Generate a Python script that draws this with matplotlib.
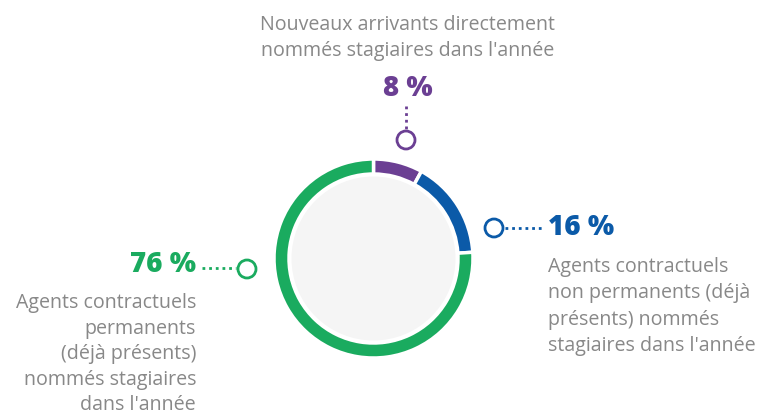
import matplotlib
matplotlib.use("Agg")
import matplotlib.pyplot as plt
from matplotlib.patches import Circle

categories = [
    "Nouveaux arrivants directement\nnommés stagiaires dans l'année",
    "Agents contractuels\nnon permanents (déjà\nprésents) nommés\nstagiaires dans l'année",
    "Agents contractuels\npermanents\n(déjà présents)\nnommés stagiaires\ndans l'année",
]
values = [8, 16, 76]
pct_labels = ["8 %", "16 %", "76 %"]
colors = ["#6b3f93", "#0b5aa8", "#1aab5f"]

W, H = 758, 414
fig = plt.figure(figsize=(W / 100, H / 100), dpi=100)
ax = fig.add_axes([0, 0, 1, 1])

def Y(y):
    return H - y

cx, cy, R = 373.5, Y(259.5), 99.5
ax.pie(values, colors=colors, startangle=90, counterclock=False,
       radius=R, center=(cx, cy), frame=True,
       wedgeprops=dict(width=15, edgecolor="white", linewidth=2.5))
ax.set_xlim(0, W)
ax.set_ylim(0, H)
ax.set_aspect("equal")
ax.axis("off")
ax.add_patch(Circle((cx, cy), 82, facecolor="#f5f5f5", edgecolor="none", zorder=1))

font = "Open Sans"
gray = "#888888"
txt_size = 14.1
pct_size = 20
pct_weight = "heavy"

# purple (top)
ax.add_patch(Circle((406, Y(141)), 9, facecolor="white", edgecolor=colors[0], lw=2, zorder=5))
ax.plot([406, 406], [Y(107), Y(131)], color=colors[0], lw=2, ls=(0, (1, 1.4)), zorder=4)
ax.text(408, Y(88), pct_labels[0], color=colors[0], fontsize=pct_size, fontweight=pct_weight,
        family=font, ha="center", va="center")
ax.text(408, Y(15), categories[0], color=gray, fontsize=txt_size, family=font,
        ha="center", va="top", linespacing=1.42)

# blue (right)
ax.add_patch(Circle((494, Y(229)), 9, facecolor="white", edgecolor=colors[1], lw=2, zorder=5))
ax.plot([505, 543], [Y(229), Y(229)], color=colors[1], lw=2, ls=(0, (1, 1.4)), zorder=4)
ax.text(548, Y(228), pct_labels[1], color=colors[1], fontsize=pct_size, fontweight=pct_weight,
        family=font, ha="left", va="center")
ax.text(548, Y(257), categories[1], color=gray, fontsize=txt_size, family=font,
        ha="left", va="top", linespacing=1.42)

# green (left)
ax.add_patch(Circle((247, Y(270)), 9, facecolor="white", edgecolor=colors[2], lw=2, zorder=5))
ax.plot([202, 236], [Y(269), Y(269)], color=colors[2], lw=2, ls=(0, (1, 1.4)), zorder=4)
ax.text(196, Y(265), pct_labels[2], color=colors[2], fontsize=pct_size, fontweight=pct_weight,
        family=font, ha="right", va="center")
ax.text(196, Y(293), categories[2], color=gray, fontsize=txt_size, family=font,
        ha="right", va="top", linespacing=1.37)

fig.savefig("out.png", dpi=100, facecolor="white")
